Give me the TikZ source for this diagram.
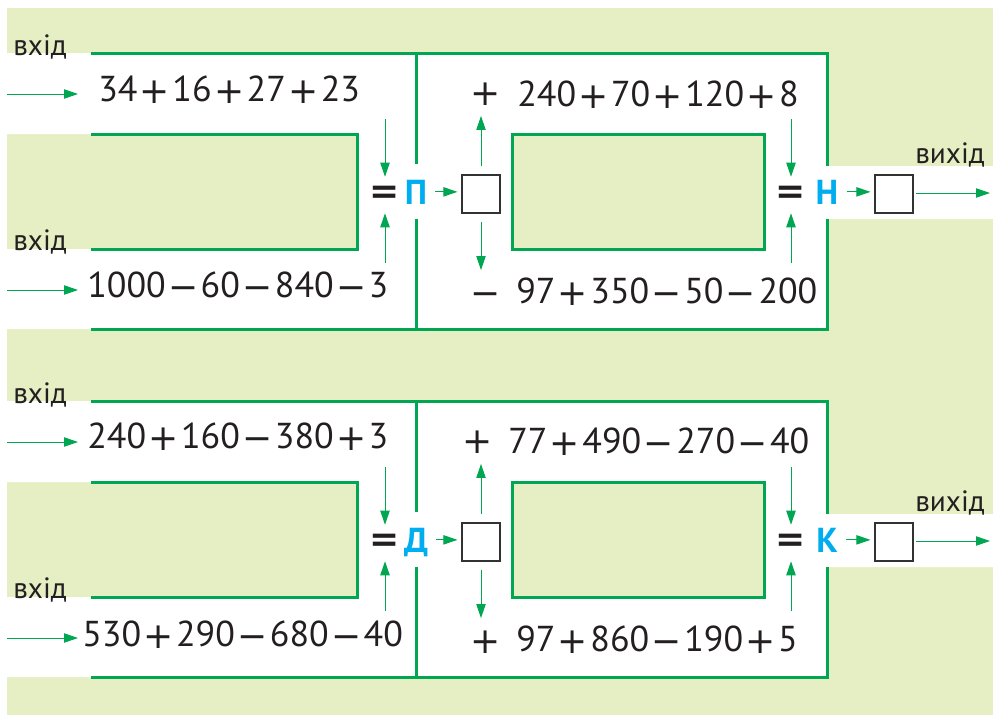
\documentclass[tikz,border=0pt]{standalone}
\usepackage{fontspec}
\setmainfont{PT Sans}
\newfontfamily\opfont{DejaVu Sans}
\usetikzlibrary{arrows.meta,calc,positioning}
\definecolor{fieldgreen}{RGB}{229,239,195}
\definecolor{wallgreen}{RGB}{0,166,81}
\definecolor{codeblue}{RGB}{0,174,239}
\definecolor{cellgray}{RGB}{50,50,50}
\definecolor{inkblack}{RGB}{35,31,32}
\newcommand\plusop{\hspace{1.8pt}\raisebox{-1.5pt}{\opfont +}\hspace{1.8pt}}
\newcommand\minusop{\hspace{1.8pt}\raisebox{-1.5pt}{\opfont −}\hspace{1.8pt}}

\begin{document}
\begin{tikzpicture}[x=0.75pt,y=-0.75pt,
    wall/.style={draw=wallgreen,line width=2.25pt},
    arr/.style={draw=wallgreen,line width=0.75pt,-{Triangle[length=10.5pt,width=7pt]}},
    expr/.style={font=\fontsize{27}{30}\selectfont,text=inkblack,anchor=base west,inner sep=0pt},
    lbl/.style={font=\fontsize{22}{24}\selectfont,text=inkblack,anchor=base west,inner sep=0pt},
    letr/.style={font=\bfseries\fontsize{26}{28}\selectfont,text=codeblue,anchor=base,inner sep=0pt,text depth=0pt},
    eqs/.style={font=\opfont\bfseries\fontsize{27}{30}\selectfont,text=inkblack,inner sep=0pt,minimum height=27pt},
    opsign/.style={font=\opfont\fontsize{27}{30}\selectfont,text=inkblack,inner sep=8pt,text height=18pt,text depth=0pt},
    cell/.style={draw=cellgray,fill=white,line width=0.9pt,minimum size=28.5pt,inner sep=0pt}]
  % Background
  \useasboundingbox (0,0) rectangle (993,715);
  \fill[fieldgreen] (7,8) rectangle (993,715);
  % Two machines, one under the other
  \foreach \o/\i/\la/\lb/\sa/\sb/\xa in {0/1/П/Н/+/−/486,348/2/Д/К/+/+/478}{
    \begin{scope}[shift={(0,\o)}]
      % White corridors
      \fill[white] (7,53) -- (827,53) -- (827,166) -- (993,166) -- (993,219)
        -- (827,219) -- (827,329) -- (7,329) -- (7,249) -- (357,249)
        -- (357,134) -- (7,134) -- cycle;
      % Walls
      \draw[wall] (91,53) -- (827,53) -- (827,166);
      \draw[wall] (827,219) -- (827,329) -- (91,329);
      \draw[wall] (91,134) -- (357,134) -- (357,249) -- (91,249);
      \draw[wall] (416,53) -- (416,164);
      \draw[wall] (416,219) -- (416,329);
      \draw[wall,fill=fieldgreen] (512,134) rectangle (764,249);
      % Signs, letters and cells
      \node[eqs] (eqa\i) at (385,195) {=};
      \node[letr] (la\i) at (416,204) {\la};
      \node[cell] (bxa\i) at (481,194) {};
      \node[opsign] (opa\i) at (\xa,93) {\sa};
      \node[opsign] (opb\i) at (486,293) {\sb};
      \node[eqs] (eqb\i) at (791,195) {=};
      \node[letr] (lb\i) at (827,204) {\lb};
      \node[cell] (bxb\i) at (894,194) {};
      % Labels
      \node[lbl] (va\i) at (13,55) {вхід};
      \node[lbl] (vb\i) at (13,250) {вхід};
      \node[lbl] (vy\i) at (915,163) {вихід};
      % Free ends
      \coordinate (ina\i) at (7,94);
      \coordinate (inb\i) at (7,290);
      \coordinate (pa\i) at (385,119);
      \coordinate (pb\i) at (385,263);
      \coordinate (pc\i) at (791,119);
      \coordinate (pd\i) at (791,263);
      \coordinate (out\i) at (990,193);
      % Arrows
      \draw[arr] (ina\i) -- ++(71,0);
      \draw[arr] (inb\i) -- ++(71,0);
      \draw[arr] (pa\i) -- (eqa\i);
      \draw[arr] (pb\i) -- (eqa\i);
      \draw[arr] (pc\i) -- (eqb\i);
      \draw[arr] (pd\i) -- (eqb\i);
      \draw[arr,shorten <=6pt,shorten >=3pt] (la\i.east) -- (la\i.east -| bxa\i.west);
      \draw[arr,shorten <=6pt] (bxa\i.north) -- (bxa\i.north |- opa\i.south);
      \draw[arr,shorten <=6pt] (bxa\i.south) -- (bxa\i.south |- opb\i.north);
      \draw[arr,shorten <=6pt,shorten >=3pt] (lb\i.east) -- (lb\i.east -| bxb\i.west);
      \draw[arr,shorten <=1.5pt] (bxb\i.east |- out\i) -- (out\i);
    \end{scope}
  }
  % Expressions of the first machine
  \node[expr] (e11) at (98,101) {34\plusop16\plusop27\plusop23};
  \node[expr] (e12) at (87,297) {1000\minusop60\minusop840\minusop3};
  \node[expr] (e13) at (517,106) {240\plusop70\plusop120\plusop8};
  \node[expr] (e14) at (516,303) {97\plusop350\minusop50\minusop200};
  % Expressions of the second machine
  \node[expr] (e21) at (87,448) {240\plusop160\minusop380\plusop3};
  \node[expr] (e22) at (82,646) {530\plusop290\minusop680\minusop40};
  \node[expr] (e23) at (508,453) {77\plusop490\minusop270\minusop40};
  \node[expr] (e24) at (516,651) {97\plusop860\minusop190\plusop5};
\end{tikzpicture}
\end{document}
